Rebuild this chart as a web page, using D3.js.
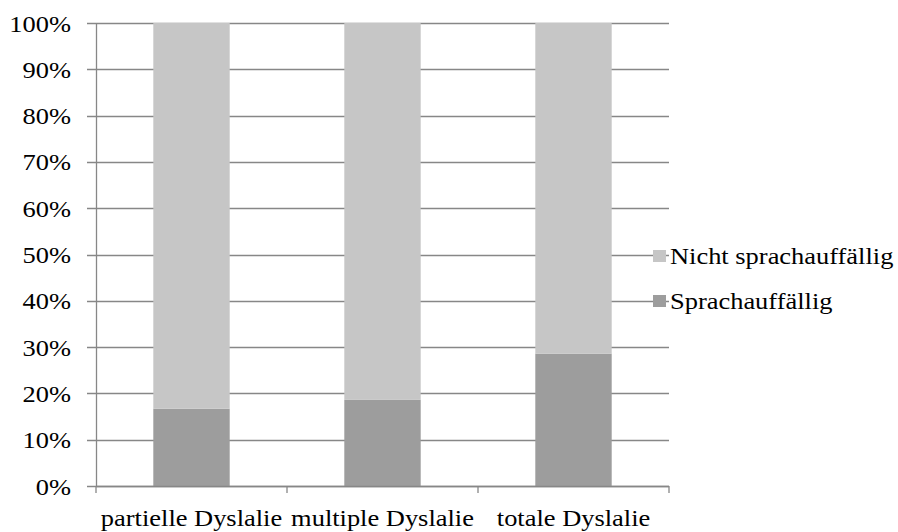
<!DOCTYPE html>
<html>
<head>
<meta charset="utf-8">
<script src="https://cdn.jsdelivr.net/npm/d3@7"></script>
<style>
  html, body { margin: 0; padding: 0; background: #fff; }
  svg { display: block; }
  svg text { font-family: "Liberation Serif", "Times New Roman", serif !important; fill: #000; }
</style>
</head>
<body>
<svg id="chart" width="898" height="532"></svg>
<script>
// Anteil sprachauffälliger Kinder je Dyslalie-Form (gestapelt auf 100 %)
const categories = ["partielle Dyslalie", "multiple Dyslalie", "totale Dyslalie"];
const sprachauffaellig = [16.7, 18.6, 28.6];
const nichtSprachauffaellig = [83.3, 81.4, 71.4];
const seriesNames = ["Sprachauffällig", "Nicht sprachauffällig"];
const seriesColors = ["#9d9d9d", "#c6c6c6"];
const yTicks = [0, 10, 20, 30, 40, 50, 60, 70, 80, 90, 100];

const svg = d3.select("#chart");
const fontSize = 23;
const stretch = 1.15; // breiter laufende Schrift
const margin = { left: 96, right: 229, top: 23, bottom: 46 };
const W = 898, H = 532;
const plotW = W - margin.left - margin.right;
const plotH = H - margin.top - margin.bottom;

const x = d3.scaleBand().domain(categories).range([0, plotW]).paddingInner(0.6).paddingOuter(0.3);
const xBand = d3.scaleBand().domain(categories).range([0, plotW]);
const y = d3.scaleLinear().domain([0, 100]).range([plotH, 0]);

function label(sel, tx, ty, anchor, str) {
  return sel.append("text")
    .attr("transform", `translate(${tx},${ty}) scale(${stretch},1)`)
    .attr("text-anchor", anchor)
    .style("font-size", fontSize + "px")
    .text(str);
}

const g = svg.append("g").attr("transform", `translate(${margin.left},${margin.top})`);

// Gitternetzlinien (mit kleinen Strichen links der Achse)
g.append("g")
  .selectAll("line")
  .data(yTicks)
  .join("line")
  .attr("x1", -9).attr("x2", plotW)
  .attr("y1", d => Math.round(y(d)) + 0.5).attr("y2", d => Math.round(y(d)) + 0.5)
  .attr("stroke", "#878787").attr("stroke-width", 1.3);

// Y-Achse
const yAxis = d3.axisLeft(y).tickValues(yTicks).tickFormat("").tickSize(0);
const yg = g.append("g").call(yAxis);
yg.select(".domain").attr("stroke", "#878787").attr("stroke-width", 1.3);
yg.selectAll(".tick").each(function (d) {
  label(d3.select(this), -25, 8, "end", d + "%");
});

// Gestapelte Balken
const stackData = categories.map((c, i) => ({ cat: c, s0: sprachauffaellig[i], s1: nichtSprachauffaellig[i] }));
const stack = d3.stack().keys(["s0", "s1"])(stackData);
g.append("g")
  .selectAll("g")
  .data(stack)
  .join("g")
  .attr("fill", (d, i) => seriesColors[i])
  .selectAll("rect")
  .data(d => d)
  .join("rect")
  .attr("x", d => x(d.data.cat))
  .attr("width", x.bandwidth())
  .attr("y", d => y(d[1]))
  .attr("height", d => y(d[0]) - y(d[1]));

// X-Achse mit Strichen an den Kategoriegrenzen
const xg = g.append("g").attr("transform", `translate(0,${plotH})`);
xg.append("line").attr("x1", 0).attr("x2", plotW).attr("y1", 0.5).attr("y2", 0.5)
  .attr("stroke", "#878787").attr("stroke-width", 1.3);
const bounds = categories.map(c => xBand(c)).concat([plotW]);
xg.selectAll("line.tick").data(bounds).join("line").attr("class", "tick")
  .attr("x1", d => d).attr("x2", d => d).attr("y1", 0).attr("y2", 7)
  .attr("stroke", "#878787").attr("stroke-width", 1.3);
categories.forEach(c => label(xg, xBand(c) + xBand.bandwidth() / 2, 40, "middle", c));

// Legende
const legendItems = [
  { name: seriesNames[1], color: seriesColors[1] },
  { name: seriesNames[0], color: seriesColors[0] }
];
const lg = svg.append("g").attr("transform", "translate(653,256)");
legendItems.forEach((it, i) => {
  const row = lg.append("g").attr("transform", `translate(0,${i * 45})`);
  row.append("rect").attr("x", 0).attr("y", -6).attr("width", 13).attr("height", 12).attr("fill", it.color);
  label(row, 17, 8, "start", it.name);
});
</script>
</body>
</html>
